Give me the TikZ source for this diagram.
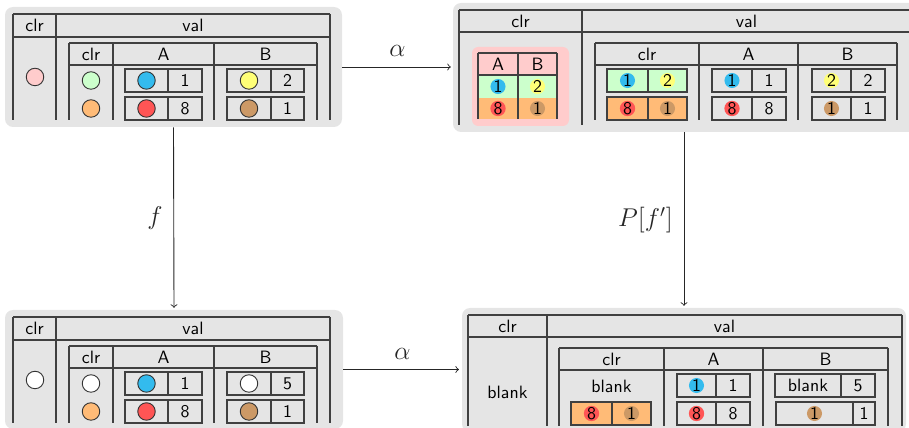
\documentclass[tikz,border=0pt]{standalone}
\usepackage{amsmath,amssymb}
\usepackage{xcolor}
\usepackage{tikz}
\usetikzlibrary{fit}

\definecolor{cpink}{HTML}{FFCCCC}
\definecolor{cgreen}{HTML}{CCFFCC}
\definecolor{corange}{HTML}{FFBB77}
\definecolor{cblue}{HTML}{33BBEE}
\definecolor{cred}{HTML}{FF5555}
\definecolor{cyellow}{HTML}{FFFF77}
\definecolor{cbrown}{HTML}{CC9966}

\tikzset{
  panel/.style={fill=black!10, rounded corners=4.5pt, inner sep=0pt},
  tline/.style={draw=black!75, line width=0.7pt},
  cline/.style={draw=black!75, line width=0.6pt},
  txt/.style={font=\sffamily, inner sep=1pt},
  dot/.style={circle, draw=black!80, fill=#1, inner sep=0pt, minimum size=9.8pt, line width=0.5pt},
  badge/.style={circle, fill=#1, inner sep=0pt, minimum size=7.8pt, font=\sffamily},
  lbl/.style={font=\Large, inner sep=0pt},
  map/.style={->, line width=0.5pt, black!85},
}

% two-part cell: x1, divider, x2, y1, y2
\newcommand\pair[6][]{\draw[cline,#1] (#2,#5) rectangle (#4,#6) (#3,#5) -- (#3,#6);}

% frame of the two left panels
\newcommand\leftgrid[1]{
  \draw[tline] (13,14) -- (330,14) (13,37) -- (330,37);
  \foreach \x in {13,56,330} \draw[tline] (\x,14) -- (\x,120);
  \draw[tline] (69,43) -- (317,43) (69,65) -- (317,65);
  \foreach \x in {69,113,214,317} \draw[tline] (\x,43) -- (\x,120);
  \node[txt] (#1-clr) at (34.5,25.5) {clr};
  \node[txt] (#1-val) at (193,25.5) {val};
  \node[txt] (#1-iclr) at (91,54) {clr};
  \node[txt] (#1-iA) at (163.5,54) {A};
  \node[txt] (#1-iB) at (265.5,54) {B};
  \pair{125}{168}{202}{69}{92} \pair{125}{168}{202}{97}{120}
  \pair{227}{271}{304}{69}{92} \pair{227}{271}{304}{97}{120}
}

\begin{document}
\begin{tikzpicture}[x=0.56pt, y=-0.56pt]
  \clip (0,0) rectangle (909,428);
  \node[panel, fit={(5,7) (342,127)}] (a) {};
  \node[panel, fit={(453,3) (917,132)}] (b) {};
  \node[panel, fit={(5,310) (343,429)}] (c) {};
  \node[panel, fit={(462,308) (906,432)}] (d) {};

  % top left
  \leftgrid{a}
  \node[dot=cpink] (a-o) at (35,77) {};
  \node[dot=cgreen] (a-c1) at (91,80.5) {};
  \node[dot=corange] (a-c2) at (91,108.5) {};
  \node[dot=cblue] (a-a1) at (146.5,80.5) {};
  \node[txt] (a-n1) at (185,80.5) {1};
  \node[dot=cred] (a-a2) at (146.5,108.5) {};
  \node[txt] (a-n2) at (185,108.5) {8};
  \node[dot=cyellow] (a-b1) at (249,80.5) {};
  \node[txt] (a-m1) at (287.5,80.5) {2};
  \node[dot=cbrown] (a-b2) at (249,108.5) {};
  \node[txt] (a-m2) at (287.5,108.5) {1};

  % bottom left
  \begin{scope}[shift={(0,303)}]
    \leftgrid{c}
    \node[dot=white] (c-o) at (35,77) {};
    \node[dot=white] (c-c1) at (91,80.5) {};
    \node[dot=corange] (c-c2) at (91,108.5) {};
    \node[dot=cblue] (c-a1) at (146.5,80.5) {};
    \node[txt] (c-n1) at (185,80.5) {1};
    \node[dot=cred] (c-a2) at (146.5,108.5) {};
    \node[txt] (c-n2) at (185,108.5) {8};
    \node[dot=white] (c-b1) at (249,80.5) {};
    \node[txt] (c-m1) at (287.5,80.5) {5};
    \node[dot=cbrown] (c-b2) at (249,108.5) {};
    \node[txt] (c-m2) at (287.5,108.5) {1};
  \end{scope}

  % top right
  \draw[tline] (459,10) -- (911,10) (459,32) -- (911,32);
  \foreach \x in {459,582,911} \draw[tline] (\x,10) -- (\x,125);
  \node[txt] (b-clr) at (520.5,21) {clr};
  \node[txt] (b-val) at (746.5,21) {val};
  \fill[cpink, rounded corners=3.5pt] (472,47) rectangle (569,126);
  \fill[cgreen] (478,75) rectangle (557,98);
  \fill[corange] (478,98) rectangle (557,119);
  \draw[cline] (478,53) -- (557,53) (478,75) -- (557,75);
  \foreach \x in {478,518,557} \draw[cline] (\x,53) -- (\x,119);
  \node[txt] (b-pA) at (498,64) {A};
  \node[txt] (b-pB) at (537.5,64) {B};
  \node[badge=cblue] (b-p1) at (498,86.5) {1};
  \node[badge=cyellow] (b-p2) at (537.5,86.5) {2};
  \node[badge=cred] (b-p3) at (498,108.5) {8};
  \node[badge=cbrown] (b-p4) at (537.5,108.5) {1};
  \draw[tline] (595,43) -- (897,43) (595,65) -- (897,65);
  \foreach \x in {595,699,798,897} \draw[tline] (\x,43) -- (\x,120);
  \node[txt] (b-iclr) at (647,54) {clr};
  \node[txt] (b-iA) at (748.5,54) {A};
  \node[txt] (b-iB) at (847.5,54) {B};
  \pair[fill=cgreen]{607}{648}{687}{69}{92}
  \pair[fill=corange]{607}{648}{687}{97}{120}
  \pair{712}{752}{786}{69}{92} \pair{712}{752}{786}{97}{120}
  \pair{812}{851}{885}{69}{92} \pair{812}{851}{885}{97}{120}
  \node[badge=cblue] (b-c1) at (627.5,80.5) {1};
  \node[badge=cyellow] (b-c2) at (667.5,80.5) {2};
  \node[badge=cred] (b-c3) at (627.5,108.5) {8};
  \node[badge=cbrown] (b-c4) at (667.5,108.5) {1};
  \node[badge=cblue] (b-a1) at (732,80.5) {1};
  \node[txt] (b-n1) at (769,80.5) {1};
  \node[badge=cred] (b-a2) at (732,108.5) {8};
  \node[txt] (b-n2) at (769,108.5) {8};
  \node[badge=cyellow] (b-b1) at (831.5,80.5) {2};
  \node[txt] (b-m1) at (868,80.5) {2};
  \node[badge=cbrown] (b-b2) at (831.5,108.5) {1};
  \node[txt] (b-m2) at (868,108.5) {1};

  % bottom right
  \draw[tline] (468,315) -- (902,315) (468,337) -- (902,337);
  \foreach \x in {468,547,902} \draw[tline] (\x,315) -- (\x,426);
  \node[txt] (d-clr) at (507.5,326) {clr};
  \node[txt] (d-val) at (724.5,326) {val};
  \node[txt] (d-o) at (507.5,392) {blank};
  \draw[tline] (559,348) -- (888,348) (559,370) -- (888,370);
  \foreach \x in {559,664,763,888} \draw[tline] (\x,348) -- (\x,426);
  \node[txt] (d-iclr) at (611.5,359) {clr};
  \node[txt] (d-iA) at (713.5,359) {A};
  \node[txt] (d-iB) at (825.5,359) {B};
  \node[txt] (d-c1) at (611.5,386) {blank};
  \pair[fill=corange]{571}{612}{651}{402}{425}
  \node[badge=cred] (d-c2) at (591.5,413.5) {8};
  \node[badge=cbrown] (d-c3) at (631.5,413.5) {1};
  \pair{677}{716}{750}{374}{397} \pair{677}{716}{750}{402}{425}
  \node[badge=cblue] (d-a1) at (696.5,385.5) {1};
  \node[txt] (d-n1) at (733,385.5) {1};
  \node[badge=cred] (d-a2) at (696.5,413.5) {8};
  \node[txt] (d-n2) at (733,413.5) {8};
  \pair{775}{841}{875}{374}{397} \pair{776}{853}{875}{402}{425}
  \node[txt] (d-b1) at (808,385.5) {blank};
  \node[txt] (d-m1) at (858,385.5) {5};
  \node[badge=cbrown] (d-b2) at (814.5,413.5) {1};
  \node[txt] (d-m2) at (864,413.5) {1};

  % maps between the panels
  \draw[map, shorten >=1pt] (a.east) -- node[lbl, above=5.5pt] (al1) {$\alpha$} (a.east -| b.west);
  \draw[map, shorten >=1pt] (a.south) -- node[lbl, left=6pt] (f) {$f$} (c.north);
  \draw[map, shorten >=1pt] (b.south -| d.north) -- node[lbl, left=6pt] (pf) {$P[f']$} (d.north);
  \draw[map, shorten >=1.5pt] (c.east) -- node[lbl, above=5.5pt] (al2) {$\alpha$} (c.east -| d.west);
\end{tikzpicture}
\end{document}
